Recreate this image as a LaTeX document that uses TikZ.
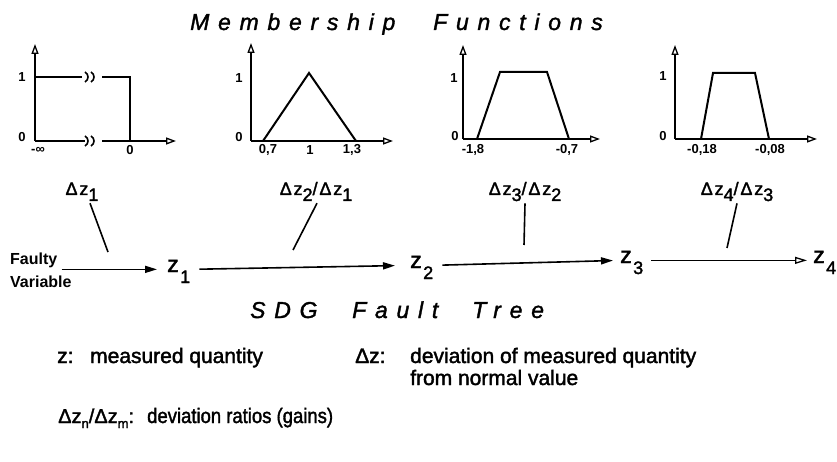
\documentclass[tikz,border=0pt]{standalone}
\usepackage{fontspec}
\usepackage{graphicx}
\setmainfont{Liberation Sans}
\newfontfamily\ttlfont{Liberation Sans}[LetterSpace=38,FakeBold=1.5]
\newfontfamily\lblfont{Liberation Sans}[LetterSpace=10,FakeBold=1.8]
\newfontfamily\legfont{Liberation Sans}[FakeBold=1.8]
\usetikzlibrary{arrows.meta}
\newcommand\dsub[1]{\raisebox{-6pt}{#1}}
\newcommand\zsub[1]{\kern1.5pt\raisebox{-11pt}{\fontsize{18}{18}\selectfont #1}}
\newcommand\lsub[1]{\raisebox{-5pt}{\fontsize{13}{13}\selectfont #1}}
\begin{document}
\begin{tikzpicture}[x=1pt,y=-1pt,
  ax/.style={line width=1.6pt,-{Triangle[open,length=10pt,width=7pt,line width=1.3pt]}},
  fn/.style={line width=2pt,line join=miter},
  brk/.style={line width=1.6pt},
  tick/.style={font=\fontsize{13}{13}\selectfont\bfseries,inner sep=0pt},
  ttl/.style={font=\fontsize{23}{23}\selectfont\ttlfont\itshape,inner sep=0pt,anchor=base west},
  lbl/.style={font=\fontsize{18}{18}\selectfont\lblfont,inner sep=2pt,anchor=base},
  conn/.style={line width=1.6pt},
  ft/.style={font=\fontsize{16}{16}\selectfont\bfseries,inner sep=0pt,anchor=base west},
  zn/.style={font=\fontsize{23}{23}\selectfont\legfont,inner sep=0pt,anchor=base west},
  arr/.style={line width=1.6pt,-{Triangle[length=12pt,width=7pt]}},
  arro/.style={line width=1.6pt,-{Triangle[open,length=12pt,width=7pt,line width=1.3pt]}},
  leg/.style={font=\fontsize{21}{22}\selectfont\legfont,inner sep=0pt,anchor=base west}]
\fill[white] (0,0) rectangle (837,462);
\useasboundingbox (0,0) rectangle (837,462);

% Title
\node[ttl] (t1) at (190,30) {Membership};
\node[ttl] (t2) at (433,30) {Functions};

% Chart 1
\draw[ax] (35,141) -- (35,44);
\draw[fn] (35,141) -- (85,141);
\draw[ax] (102,141) -- (176,141);
\draw[fn] (35,77) -- (82,77);
\draw[fn] (102,77) -- (130,77) -- (130,141);
\foreach \yy in {77,141}{
  \draw[brk] (85,\yy-5) .. controls (89,\yy-3) and (89,\yy+3) .. (85,\yy+5);
  \draw[brk] (91,\yy-5) .. controls (95,\yy-3) and (95,\yy+3) .. (91,\yy+5);
}
\node[tick] at (22,77) {1};
\node[tick] at (22,137) {0};
\node[tick] at (38,150) {-∞};
\node[tick] at (130,150) {0};

% Chart 2
\draw[ax] (251,141) -- (251,43);
\draw[ax] (251,141) -- (393,141);
\draw[fn] (263,141) -- (309,73) -- (356,141);
\node[tick] at (239,78) {1};
\node[tick] at (239,137) {0};
\node[tick] at (268,150) {0,7};
\node[tick] at (310,150) {1};
\node[tick] at (352,150) {1,3};

% Chart 3
\draw[ax] (463,139) -- (463,45);
\draw[ax] (463,139) -- (600,139);
\draw[fn] (477,139) -- (500,72) -- (547,72) -- (569,139);
\node[tick] at (454,78) {1};
\node[tick] at (455,136) {0};
\node[tick] at (473,150) {-1,8};
\node[tick] at (567,150) {-0,7};

% Chart 4
\draw[ax] (675,139) -- (675,45);
\draw[ax] (675,139) -- (817,139);
\draw[fn] (701,139) -- (713,73) -- (755,73) -- (769,139);
\node[tick] at (663,76) {1};
\node[tick] at (663,136) {0};
\node[tick] at (702,150) {-0,18};
\node[tick] at (770,150) {-0,08};

% Chart labels
\node[lbl] (d1) at (82,195) {Δz\dsub{1}};
\node[lbl] (d2) at (316,195) {Δz\dsub{2}/Δz\dsub{1}};
\node[lbl] (d3) at (525,195) {Δz\dsub{3}/Δz\dsub{2}};
\node[lbl] (d4) at (737,195) {Δz\dsub{4}/Δz\dsub{3}};

% Fault tree row
\node[ft] (fv1) at (10,265) {Faulty};
\node[ft] (fv2) at (10,287) {Variable};
\node[zn] (z1) at (167,272) {z\zsub{1}};
\node[zn] (z2) at (410,268) {z\zsub{2}};
\node[zn] (z3) at (620,263) {z\zsub{3}};
\node[zn] (z4) at (813,263) {z\zsub{4}};

\draw[arr,shorten <=4pt,shorten >=10pt] (fv1.east |- z1.mid west) -- (z1.mid west);
\draw[arr,shorten <=9pt,shorten >=15pt] (z1.mid east) -- (z2.mid west);
\draw[arr,shorten <=9pt,shorten >=7pt] (z2.mid east) -- (z3.mid west);
\draw[arro,shorten <=8pt,shorten >=6pt] (z3.mid east) -- (z4.mid west);

% Connectors from labels to the tree
\coordinate (c1) at (108,252);
\coordinate (c2) at (293,250);
\coordinate (c3) at (524,245);
\coordinate (c4) at (727,248);
\draw[conn] ([xshift=8pt]d1.south) -- (c1);
\draw[conn] ([xshift=1pt]d2.south) -- (c2);
\draw[conn] (d3.south) -- (c3);
\draw[conn] (d4.south) -- (c4);

% SDG title
\node[ttl] (s1) at (250,318) {SDG};
\node[ttl] (s2) at (352,318) {Fault};
\node[ttl] (s3) at (472,318) {Tree};

% Legend
\node[leg] (lz) at (57,363) {z:};
\node[leg] (lzd) at (90,363) {measured quantity};
\node[leg] (ldz) at (355,363) {Δz:};
\node[leg,align=left] (ldzd) at (410,385) {deviation of measured quantity\\from normal value};
\node[leg,font=\fontsize{20}{22}\selectfont\legfont] (lr) at (58,423) {Δz\lsub{n}/Δz\lsub{m}:};
\node[leg] (lrd) at (147,423) {\scalebox{0.88}[1]{deviation ratios (gains)}};
\end{tikzpicture}
\end{document}
